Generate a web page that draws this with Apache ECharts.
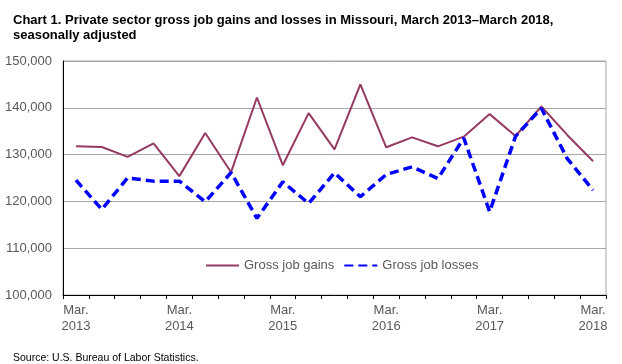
<!DOCTYPE html>
<html>
<head>
<meta charset="utf-8">
<script src="https://cdn.jsdelivr.net/npm/echarts@6/dist/echarts.min.js"></script>
<style>
html,body{margin:0;padding:0;background:#fff;}
#c{width:622px;height:364px;}
</style>
</head>
<body>
<div id="c"></div>
<script>
var categories = [
  "Mar.\n2013","Jun.\n2013","Sep.\n2013","Dec.\n2013",
  "Mar.\n2014","Jun.\n2014","Sep.\n2014","Dec.\n2014",
  "Mar.\n2015","Jun.\n2015","Sep.\n2015","Dec.\n2015",
  "Mar.\n2016","Jun.\n2016","Sep.\n2016","Dec.\n2016",
  "Mar.\n2017","Jun.\n2017","Sep.\n2017","Dec.\n2017",
  "Mar.\n2018"
];
var grossJobGains = [
  131770, 131630, 129500, 132400,
  125400, 134600, 126240, 142200,
  127730, 138870, 131130, 145030,
  131560, 133690, 131770, 133830,
  138650, 133970, 140280, 134200,
  128580
];
var grossJobLosses = [
  124540, 118300, 125030, 124330,
  124330, 119930, 126170, 116380,
  124180, 119570, 126100, 120990,
  125740, 127380, 124890, 133550,
  117800, 133900, 139900, 129150,
  122400
];
var yTicks = [100000, 110000, 120000, 130000, 140000, 150000];

var chart = echarts.init(document.getElementById('c'), null, {renderer: 'canvas'});
chart.setOption({
  animation: false,
  backgroundColor: '#ffffff',
  title: [{
    text: 'Chart 1. Private sector gross job gains and losses in Missouri, March 2013\u2013March 2018,\nseasonally adjusted',
    left: 8, top: 8,
    textStyle: {
      fontFamily: 'Arial, "Liberation Sans", sans-serif',
      fontWeight: 'bold', fontSize: 13, lineHeight: 15, color: '#000'
    }
  }, {
    text: 'Source: U.S. Bureau of Labor Statistics.',
    left: 8, top: 348,
    textStyle: {
      fontFamily: 'Arial, "Liberation Sans", sans-serif',
      fontWeight: 'normal', fontSize: 10.5, color: '#000'
    }
  }],
  legend: {
    left: 205, top: 259, padding: 0,
    orient: 'horizontal',
    itemWidth: 33, itemHeight: 14, itemGap: 9,
    itemStyle: {opacity: 0},
    textStyle: {fontFamily: 'Arial, "Liberation Sans", sans-serif', fontSize: 13, color: '#595959'},
    data: ['Gross job gains', 'Gross job losses']
  },
  grid: {
    left: 63, right: 16, top: 61, bottom: 69,
    show: true, borderColor: '#a6a6a6', borderWidth: 1
  },
  xAxis: {
    type: 'category',
    data: categories,
    boundaryGap: true,
    axisLine: {show: true, lineStyle: {color: '#000', width: 1}},
    axisTick: {show: true, interval: 0, length: 4, inside: false, lineStyle: {color: '#000'}},
    axisLabel: {
      interval: 3, margin: 7,
      fontFamily: 'Arial, "Liberation Sans", sans-serif', fontSize: 13, lineHeight: 16, color: '#595959'
    },
    splitLine: {show: false}
  },
  yAxis: {
    type: 'value',
    min: yTicks[0], max: yTicks[yTicks.length - 1], interval: 10000,
    axisLine: {show: true, lineStyle: {color: '#000', width: 1}},
    axisTick: {show: false},
    axisLabel: {
      margin: 11,
      fontFamily: 'Arial, "Liberation Sans", sans-serif', fontSize: 13, color: '#595959',
      formatter: function (v) { return v.toLocaleString('en-US'); }
    },
    splitLine: {show: true, lineStyle: {color: '#a6a6a6', width: 1}}
  },
  series: [{
    name: 'Gross job gains',
    type: 'line',
    data: grossJobGains,
    symbol: 'none',
    itemStyle: {color: '#953a62'},
    lineStyle: {color: '#953a62', width: 2}
  }, {
    name: 'Gross job losses',
    type: 'line',
    data: grossJobLosses,
    symbol: 'none',
    itemStyle: {color: '#0000ff'},
    lineStyle: {color: '#0000ff', width: 3.5, type: [9, 5]}
  }]
});
</script>
</body>
</html>
